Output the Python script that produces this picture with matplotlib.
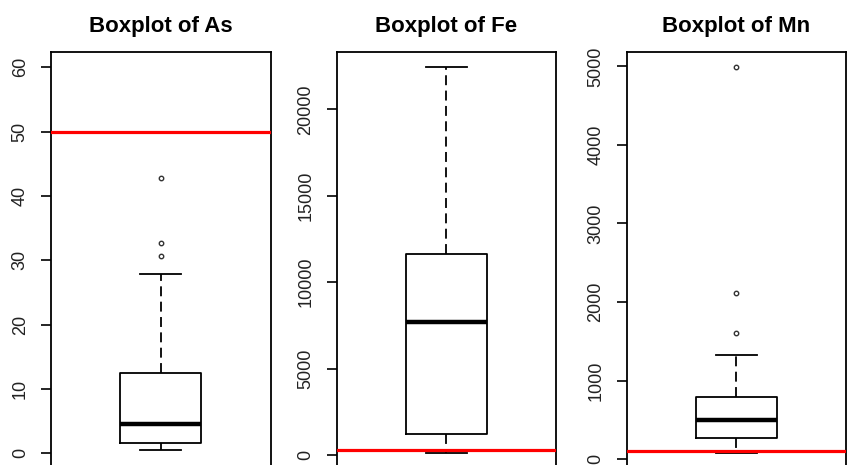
import matplotlib.pyplot as plt
import numpy as np

plt.rcParams['font.family'] = ['Liberation Sans', 'DejaVu Sans']

# Summary stats
elements = ["As", "Fe", "Mn"]
q1 = [1.6, 1200, 265]
med = [4.6, 7700, 500]
q3 = [12.5, 11650, 790]
whislo = [0.5, 100, 75]
whishi = [27.9, 22450, 1320]
fliers = [[30.7, 32.7, 42.8], [], [1610, 2120, 4990]]
limits = [50, 300, 100]
yticks = [np.arange(0, 61, 10), np.arange(0, 20001, 5000), np.arange(0, 5001, 1000)]

lefts = [51 / 847, 336.7 / 847, 626.7 / 847]
width = 219.5 / 847
bottom = -0.008
height = 0.8968

fig = plt.figure(figsize=(8.47, 4.65), dpi=100)

for i, el in enumerate(elements):
    ax = fig.add_axes([lefts[i], bottom, width, height])
    stats = [dict(med=med[i], q1=q1[i], q3=q3[i], whislo=whislo[i],
                  whishi=whishi[i], fliers=fliers[i], label=el)]
    ax.bxp(stats, positions=[1], widths=0.4, capwidths=0.2,
           boxprops=dict(color='black', lw=1.3),
           medianprops=dict(color='black', lw=3.2, solid_capstyle='butt'),
           whiskerprops=dict(color='black', lw=1.3, linestyle=(0, (5.5, 3))),
           capprops=dict(color='black', lw=1.3),
           flierprops=dict(marker='o', ms=3.2, mfc='none', mec='#333333', mew=1.0))
    ax.axhline(limits[i], color='red', lw=2.3, zorder=3)

    # R style: 4% padding on the y range
    if i == 0:
        lo, hi = 0, 60
    else:
        lo = whislo[i]
        hi = max([whishi[i]] + fliers[i])
    pad = 0.04 * (hi - lo)
    ax.set_ylim(lo - pad, hi + pad)
    ax.set_xlim(0.46, 1.54)

    ax.set_yticks(yticks[i])
    ax.set_yticklabels([str(v) for v in yticks[i]], rotation=90, va='center',
                       fontsize=13, color='#222222')
    ax.tick_params(axis='y', length=7, width=1.2, pad=9)
    ax.set_xticks([])
    for s in ax.spines.values():
        s.set_linewidth(1.3)
    ax.set_title(f'Boxplot of {el}', fontsize=16, fontweight='bold', pad=14.4)

plt.savefig('out.png', dpi=100)
